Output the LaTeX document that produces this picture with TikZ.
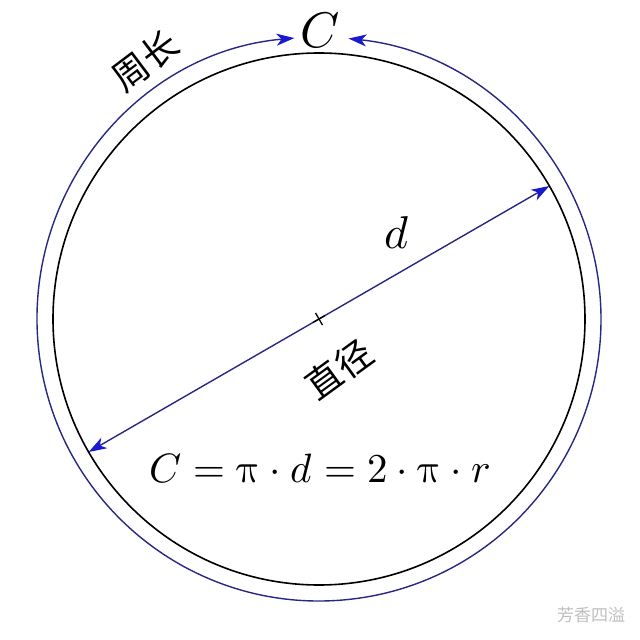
\documentclass[tikz,border=0pt]{standalone}
\usepackage{fontspec}
\usepackage{unicode-math}
\setmathfont{Latin Modern Math}
\newfontfamily\cjk{Noto Sans CJK SC}
\usetikzlibrary{arrows.meta}
\usetikzlibrary{positioning}

\definecolor{lineblue}{RGB}{40,40,130}
\definecolor{tipblue}{RGB}{25,25,205}

\tikzset{
  perim/.style={draw=lineblue,line width=1.4pt,
    {Stealth[length=18pt,width=12pt,inset=5pt,color=tipblue]}-{Stealth[length=18pt,width=12pt,inset=5pt,color=tipblue]}},
  bigmath/.style={font=\fontsize{#1}{#1}\selectfont,inner sep=0pt},
  hanzi/.style={font=\cjk\fontsize{#1}{#1}\selectfont,inner sep=0pt}
}

\begin{document}
\begin{tikzpicture}[x=1pt,y=1pt]
				\useasboundingbox (-319,-321) rectangle (321,319);

					% circle and centre
					\coordinate (O) at (0,0);
					\draw[black,line width=1.6pt] (O) circle (266);

					% diameter
					\coordinate (A) at (30:266);
					\coordinate (B) at (210:266);
					\draw[perim] (B) -- (A);
					\draw[black,line width=1.3pt,rotate=30] (O) ++(-7,0) -- ++(14,0);
					\draw[black,line width=1.3pt,rotate=30] (O) ++(0,-7) -- ++(0,14);

					% circumference
					\coordinate (P) at (95:282);
					\draw[perim] (P) arc[start angle=95,end angle=444,radius=282];

					% labels
					\node[bigmath=50] (lblC) at (1,289) {$C$};
					\node[bigmath=46] (lbld) at (78,86) {$d$};
					\node[bigmath=41] (formula) at (1,-149)
						{$C=\symup{\pi}\cdot d=2\cdot\symup{\pi}\cdot r$};
					\node[hanzi=36,rotate=36] (zhijing) at (20,-50) {直径};
					\node[hanzi=36,rotate=37] (zhouchang) at (-174,258) {周长};
					\node[hanzi=17,text=black!25] (mark) at (272,-296) {芳香四溢};

				\end{tikzpicture}
\end{document}
